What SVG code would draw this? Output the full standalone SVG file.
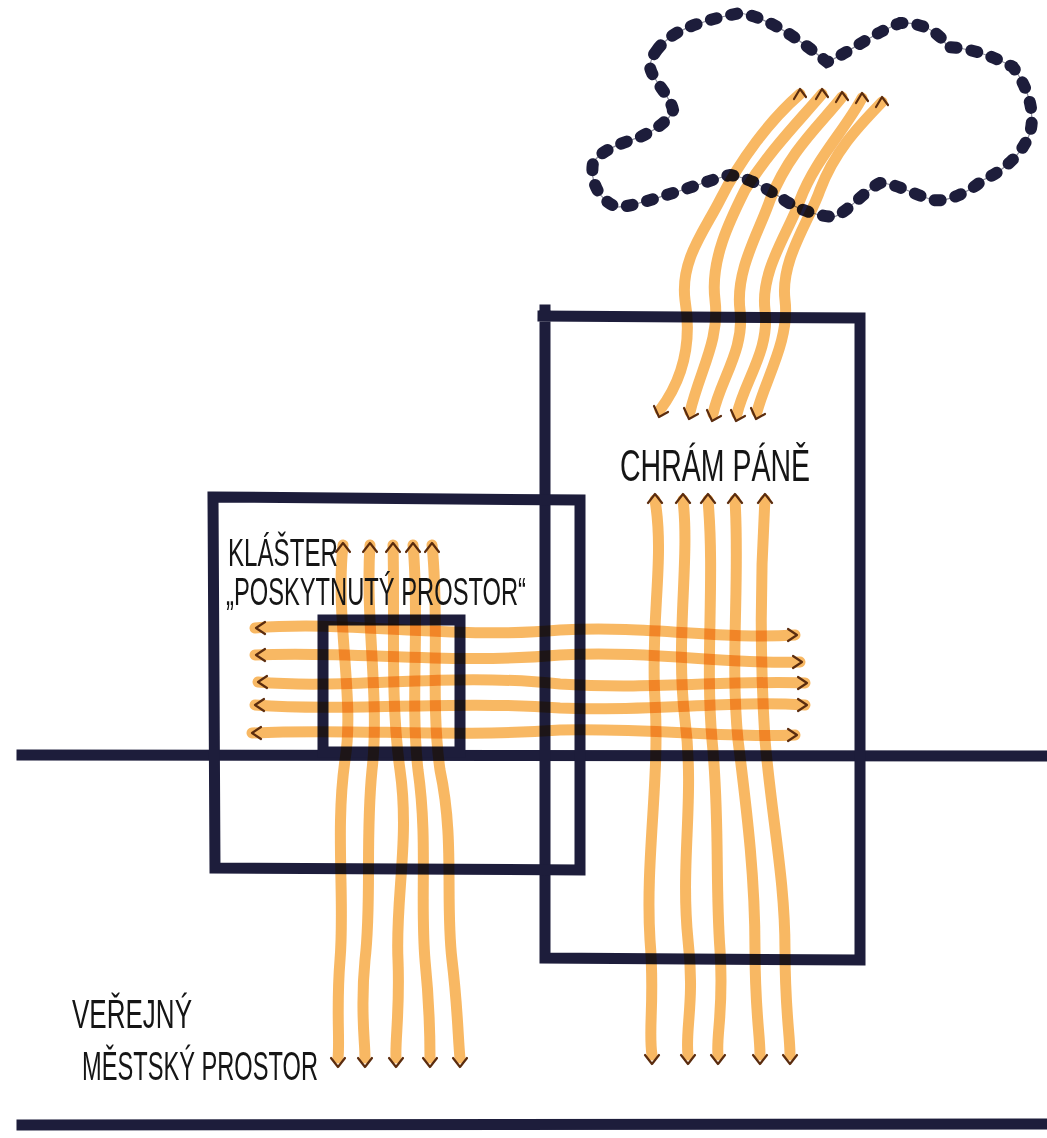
<svg xmlns="http://www.w3.org/2000/svg" width="1047" height="1138" viewBox="0 0 1047 1138">
<style>
.ink{fill:none;stroke:#1d1d3b;stroke-width:11;stroke-linecap:square;stroke-linejoin:miter}
.dots{fill:none;stroke:#1d1d3b;stroke-width:12;stroke-linecap:round;stroke-dasharray:6 15}
.thin{fill:none;stroke:#8a8a9a;stroke-width:1.2}
.strand{fill:none;stroke:#f6a02e;stroke-width:11;stroke-linecap:round;opacity:0.75;mix-blend-mode:multiply}
.arr{fill:none;stroke:#5b2c0e;stroke-width:2.2;stroke-linecap:round;stroke-linejoin:round}
.lbl{font-family:"Liberation Sans Narrow","Liberation Sans",Arial,sans-serif;fill:#151515;font-weight:normal}
</style>
<rect width="1047" height="1138" fill="#ffffff"/>

<g id="cloud">
<path class="thin" d="M657,50 C670,32 695,22 740,13 C770,18 800,40 827,62 C845,55 870,35 900,23 C930,22 945,40 947,47 C975,48 1000,60 1013,67 C1030,90 1035,115 1030,133 C1020,160 995,175 983,180 C965,195 945,202 933,200 C915,195 895,183 880,183 C865,190 845,215 833,217 C810,215 790,205 780,197 C765,188 750,178 730,175 C710,180 690,188 673,193 C650,200 630,207 617,207 C598,200 590,180 593,163 C600,150 625,142 640,137 C655,130 670,120 673,110 C670,95 652,80 650,67 C650,60 654,54 657,50 Z"/>
<path class="dots" d="M657,50 C670,32 695,22 740,13 C770,18 800,40 827,62 C845,55 870,35 900,23 C930,22 945,40 947,47 C975,48 1000,60 1013,67 C1030,90 1035,115 1030,133 C1020,160 995,175 983,180 C965,195 945,202 933,200 C915,195 895,183 880,183 C865,190 845,215 833,217 C810,215 790,205 780,197 C765,188 750,178 730,175 C710,180 690,188 673,193 C650,200 630,207 617,207 C598,200 590,180 593,163 C600,150 625,142 640,137 C655,130 670,120 673,110 C670,95 652,80 650,67 C650,60 654,54 657,50 Z"/>
</g>

<g id="street-line">
<path class="ink" d="M22,755 L1047,756"/>
</g>
<g id="ground-line">
<path class="ink" d="M22,1125 L1047,1124"/>
</g>

<g id="church">
<path class="ink" d="M545,310 L545,958 L860,960 L860,318 L543,316"/>
</g>

<g id="cloister">
<path class="ink" d="M213,497 L580,500 L580,870 L215,868 Z"/>
</g>

<g id="courtyard">
<path class="ink" d="M323,620 L460,620 L460,752 L323,752 Z"/>
</g>

<g id="connectors">
<path class="strand" d="M660,410 C690,370 690,330 685,300 C680,260 705,230 720,200 C740,160 770,120 800,94"/>
<path class="strand" d="M690,412 C700,370 720,340 715,300 C710,260 730,220 745,190 C770,150 800,120 822,94"/>
<path class="strand" d="M713,414 C720,380 745,350 740,310 C735,270 760,230 770,200 C790,150 820,125 842,97"/>
<path class="strand" d="M737,414 C745,380 770,350 765,310 C760,270 790,230 800,200 C815,160 845,130 862,98"/>
<path class="strand" d="M757,412 C765,380 790,340 785,300 C780,260 810,220 820,190 C835,150 860,125 882,102"/>
<path class="strand" d="M655,500 C665,560 650,620 655,700 C660,780 645,860 650,940 C655,1000 648,1030 652,1055"/>
<path class="strand" d="M683,500 C690,560 675,640 685,720 C695,800 680,860 688,940 C695,1000 685,1030 688,1055"/>
<path class="strand" d="M708,500 C715,580 705,660 712,740 C720,820 715,880 720,950 C724,1010 716,1035 718,1055"/>
<path class="strand" d="M735,500 C740,580 730,660 738,740 C748,820 755,880 755,950 C755,1010 760,1035 760,1055"/>
<path class="strand" d="M765,500 C760,580 760,660 765,740 C772,820 785,880 785,950 C785,1010 790,1035 790,1055"/>
<path class="strand" d="M255,628 C350,620 450,640 560,630 C650,625 720,640 795,635"/>
<path class="strand" d="M255,655 C350,650 450,665 560,655 C650,650 730,665 800,662"/>
<path class="strand" d="M258,682 C350,690 450,672 560,684 C650,690 730,680 805,683"/>
<path class="strand" d="M255,705 C350,712 450,700 560,708 C650,712 730,700 805,705"/>
<path class="strand" d="M252,733 C350,728 450,738 560,730 C650,728 730,738 795,735"/>
<path class="strand" d="M343,545 C335,620 355,700 345,760 C335,830 345,900 340,960 C336,1010 340,1040 338,1058"/>
<path class="strand" d="M370,545 C365,620 380,700 372,770 C365,840 372,900 365,960 C360,1010 365,1040 365,1058"/>
<path class="strand" d="M393,545 C395,620 390,700 400,770 C410,840 395,900 398,960 C400,1010 395,1040 396,1058"/>
<path class="strand" d="M413,545 C420,620 410,700 418,770 C428,840 420,900 425,960 C430,1010 430,1040 430,1058"/>
<path class="strand" d="M432,545 C440,620 430,700 440,770 C455,840 445,900 452,960 C458,1010 458,1040 460,1058"/>

<path class="arr" d="M794,99 L800,89 L806,97 M816,99 L822,89 L828,97 M836,102 L842,92 L848,100 M856,103 L862,93 L868,101 M876,107 L882,97 L888,105"/>
<path class="arr" d="M654,406 L659,417 L668,412 M684,408 L689,419 L698,414 M707,410 L712,421 L721,416 M731,410 L736,421 L745,416 M751,408 L756,419 L765,414"/>
<path class="arr" d="M648,503 L655,494 L662,503 M676,503 L683,494 L690,503 M701,503 L708,494 L715,503 M728,503 L735,494 L742,503 M758,503 L765,494 L772,503"/>
<path class="arr" d="M645,1055 L652,1064 L659,1055 M681,1055 L688,1064 L695,1055 M711,1055 L718,1064 L725,1055 M753,1055 L760,1064 L767,1055 M783,1055 L790,1064 L797,1055"/>
<path class="arr" d="M265,622 L256,628 L265,634 M265,649 L256,655 L265,661 M267,676 L258,682 L267,688 M264,699 L255,705 L264,711 M261,727 L252,733 L261,739"/>
<path class="arr" d="M788,629 L797,635 L788,641 M793,656 L802,662 L793,668 M798,677 L807,683 L798,689 M798,699 L807,705 L798,711 M788,729 L797,735 L788,741"/>
<path class="arr" d="M336,552 L343,543 L350,552 M363,552 L370,543 L377,552 M386,552 L393,543 L400,552 M406,552 L413,543 L420,552 M425,552 L432,543 L439,552"/>
<path class="arr" d="M331,1058 L338,1067 L345,1058 M358,1058 L365,1067 L372,1058 M389,1058 L396,1067 L403,1058 M423,1058 L430,1067 L437,1058 M453,1058 L460,1067 L467,1058"/>
</g>

<g id="labels">
<text class="lbl" x="228" y="566" font-size="38" textLength="110" lengthAdjust="spacingAndGlyphs">KLÁŠTER</text>
<text class="lbl" x="226" y="605" font-size="38" textLength="300" lengthAdjust="spacingAndGlyphs">„POSKYTNUTÝ PROSTOR“</text>
<text class="lbl" x="620" y="481" font-size="44" textLength="190" lengthAdjust="spacingAndGlyphs">CHRÁM PÁNĚ</text>
<text class="lbl" x="72" y="1028" font-size="40" textLength="120" lengthAdjust="spacingAndGlyphs">VEŘEJNÝ</text>
<text class="lbl" x="82" y="1080" font-size="40" textLength="236" lengthAdjust="spacingAndGlyphs">MĚSTSKÝ PROSTOR</text>
</g>
</svg>
